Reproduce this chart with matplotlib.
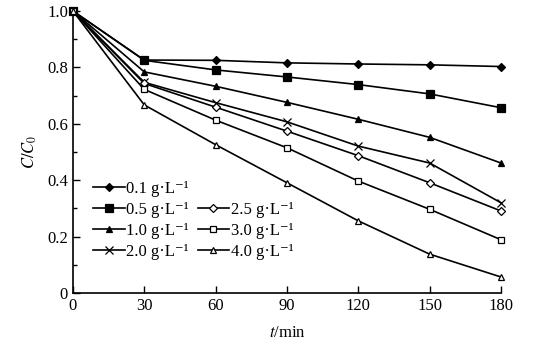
import numpy as np
import matplotlib.pyplot as plt
from matplotlib.lines import Line2D
from matplotlib.ticker import MultipleLocator

plt.rcParams['font.family'] = ['Liberation Serif', 'DejaVu Serif']
plt.rcParams['mathtext.fontset'] = 'stix'

t = [0, 30, 60, 90, 120, 150, 180]
c01 = [1.0, 0.826, 0.825, 0.816, 0.812, 0.809, 0.803]
c05 = [1.0, 0.825, 0.791, 0.766, 0.739, 0.706, 0.657]
c10 = [1.0, 0.784, 0.733, 0.676, 0.616, 0.552, 0.461]
c20 = [1.0, 0.747, 0.675, 0.607, 0.521, 0.461, 0.320]
c25 = [1.0, 0.743, 0.659, 0.574, 0.487, 0.391, 0.291]
c30 = [1.0, 0.722, 0.613, 0.515, 0.397, 0.297, 0.189]
c40 = [1.0, 0.667, 0.526, 0.391, 0.256, 0.138, 0.057]

labels = ['0.1', '0.5', '1.0', '2.0', '2.5', '3.0', '4.0']
series = [c01, c05, c10, c20, c25, c30, c40]
markers = ['D', 's', '^', 'x', 'D', 's', '^']
filled = [True, True, True, True, False, False, False]
sizes = [4, 5.5, 5, 6, 4, 5, 5]

fig = plt.figure(figsize=(5.44, 3.42), dpi=100)
ax = fig.add_axes([0.134, 0.143, 0.787, 0.825])

handles = {}
for lab, y, m, f, s in zip(labels, series, markers, filled, sizes):
    h, = ax.plot(t, y, color='black', lw=1.2, marker=m, ms=s,
                 mfc='black' if f else 'white', mec='black', mew=0.9,
                 label=lab + ' g\u00b7L\u207b\u00b9', clip_on=False, zorder=3)
    handles[lab] = h

blank = Line2D([], [], color='none', marker=None, label=' ')
order = [handles['0.1'], handles['0.5'], handles['1.0'], handles['2.0'],
         blank, handles['2.5'], handles['3.0'], handles['4.0']]
ax.legend(handles=order, ncol=2, loc='upper left', bbox_to_anchor=(0.02, 0.44),
          frameon=False, fontsize=12, handlelength=1.9, handletextpad=0.1,
          columnspacing=0.5, labelspacing=0.3, borderpad=0.2)

ax.set_xlim(0, 180)
ax.set_ylim(0, 1.0)
ax.set_xticks(t)
ax.set_yticks([0, 0.2, 0.4, 0.6, 0.8, 1.0])
ax.set_yticklabels(['0', '0.2', '0.4', '0.6', '0.8', '1.0'])
ax.yaxis.set_minor_locator(MultipleLocator(0.1))
ax.tick_params(direction='in', labelsize=12, length=5, width=1.0)
ax.tick_params(which='minor', direction='in', length=3, width=1.0)
for side in ['top', 'right']:
    ax.spines[side].set_visible(False)
for side in ['left', 'bottom']:
    ax.spines[side].set_linewidth(1.2)

ax.set_xlabel(r'$t$/min', fontsize=12, labelpad=8)
ax.set_ylabel(r'$C/C_0$', fontsize=12, labelpad=6)

fig.savefig('out.png', dpi=100)
